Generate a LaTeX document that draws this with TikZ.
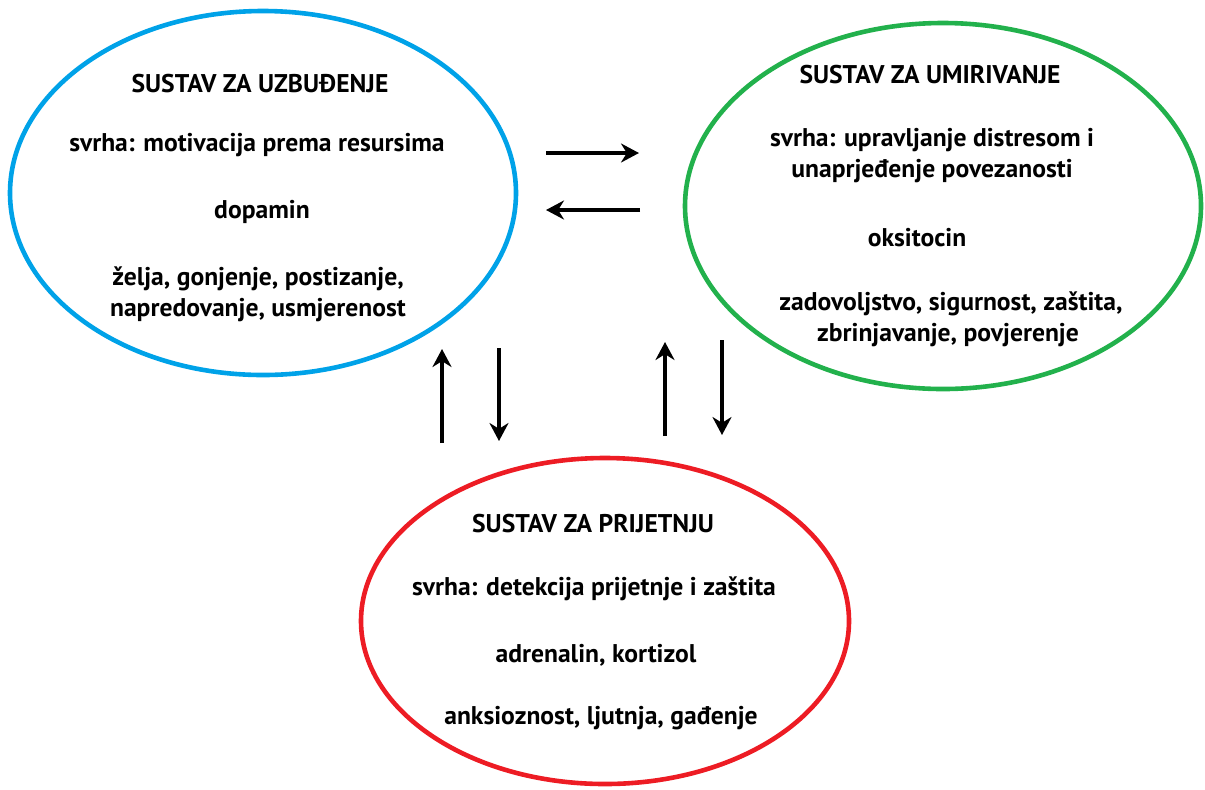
\documentclass[tikz,border=0pt]{standalone}
\usepackage{fontspec}
\setmainfont{PT Sans}
\usetikzlibrary{arrows.meta, shapes.geometric}
\definecolor{paintblue}{RGB}{0,162,232}
\definecolor{paintgreen}{RGB}{34,177,76}
\definecolor{paintred}{RGB}{237,28,36}

\begin{document}
\begin{tikzpicture}[x=0.5pt,y=-0.5pt,>={Stealth[length=9pt,width=9.5pt]},
      sustav/.style={draw,ellipse,line width=2.3pt,inner sep=0pt},
      txt/.style={font=\bfseries\fontsize{12.8}{15.5}\selectfont,align=center,inner sep=1pt},
      veza/.style={->,line width=1.7pt}]
      \useasboundingbox (0,0) rectangle (1205,789);
      % ellipses
      \node[sustav, draw=paintblue, minimum width=253pt, minimum height=182pt]  (uzb)  at (263,193) {};
      \node[sustav, draw=paintgreen, minimum width=258pt, minimum height=183pt] (umir) at (943,206) {};
      \node[sustav, draw=paintred, minimum width=244pt, minimum height=163pt]   (prij) at (605,621) {};
      % texts
      \node[txt] (uzb_t)  at (260,84)  {SUSTAV ZA UZBUĐENJE};
      \node[txt] (uzb_s)  at (257,145) {svrha: motivacija prema resursima};
      \node[txt] (uzb_h)  at (262,212) {dopamin};
      \node[txt] (uzb_e)  at (258,294) {želja, gonjenje, postizanje,\\napredovanje, usmjerenost};
      \node[txt] (umir_t) at (930,75)  {SUSTAV ZA UMIRIVANJE};
      \node[txt] (umir_s) at (932,156) {svrha: upravljanje distresom i\\unaprjeđenje povezanosti};
      \node[txt] (umir_h) at (917,238) {oksitocin};
      \node[txt] (umir_e) at (948,319) {\hspace*{3pt}zadovoljstvo, sigurnost, zaštita,\\zbrinjavanje, povjerenje};
      \node[txt] (prij_t) at (593,524) {SUSTAV ZA PRIJETNJU};
      \node[txt] (prij_s) at (594,589) {svrha: detekcija prijetnje i zaštita};
      \node[txt] (prij_h) at (596,655) {adrenalin, kortizol};
      \node[txt] (prij_e) at (601,718) {anksioznost, ljutnja, gađenje};
      % arrow ends
      \coordinate (a1) at (546,153); \coordinate (b1) at (639,153);
      \coordinate (a2) at (640,210); \coordinate (b2) at (546,210);
      \coordinate (a3) at (442,443); \coordinate (b3) at (442,349);
      \coordinate (a4) at (499,348); \coordinate (b4) at (499,441);
      \coordinate (a5) at (665,436); \coordinate (b5) at (665,342);
      \coordinate (a6) at (722,340); \coordinate (b6) at (722,435);
      \foreach \i in {1,...,6}
        \draw[veza] (a\i) -- (b\i);
\end{tikzpicture}
\end{document}
